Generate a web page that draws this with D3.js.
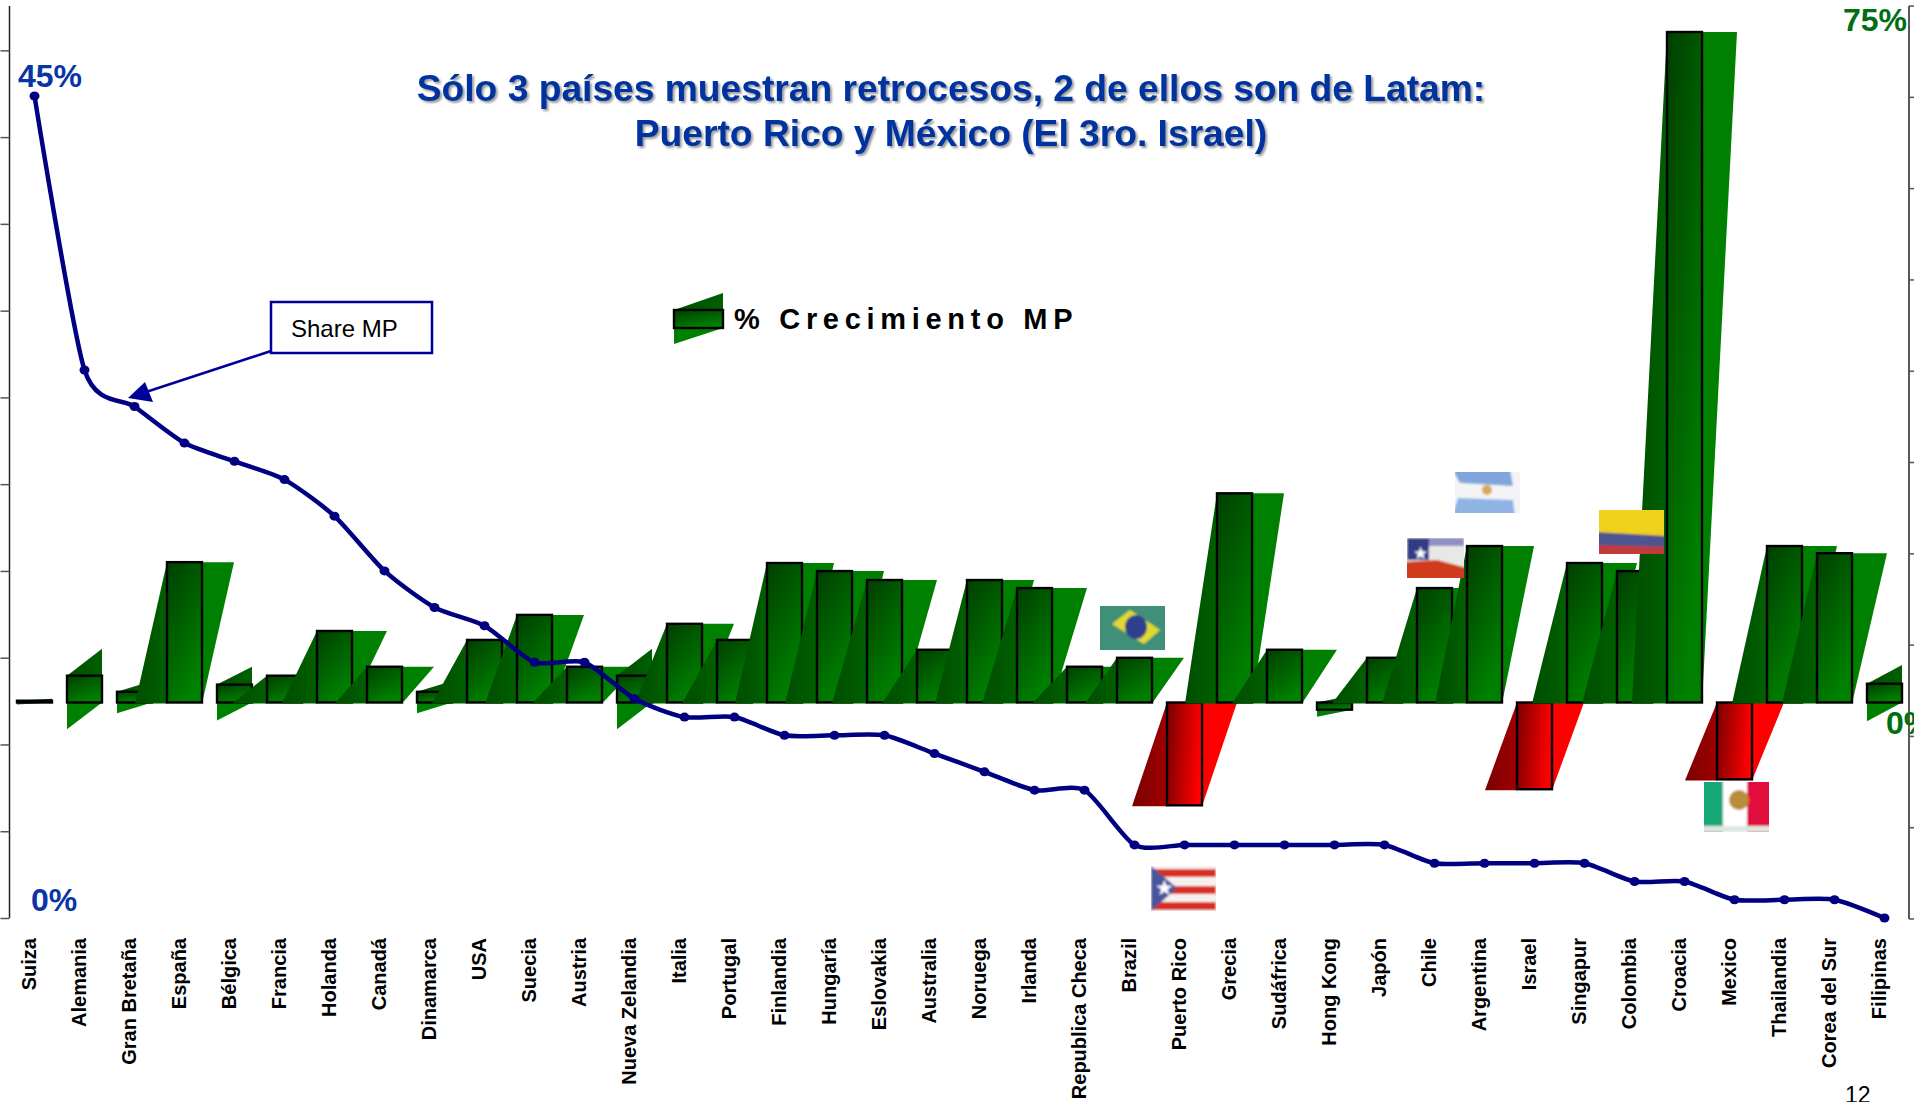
<!DOCTYPE html>
<html><head><meta charset="utf-8">
<script src="https://cdnjs.cloudflare.com/ajax/libs/d3/7.8.5/d3.min.js"></script>
<style>
html,body{margin:0;padding:0;background:#fff;overflow:hidden}
svg{display:block}
text{font-family:"Liberation Sans",Arial,sans-serif}
</style></head><body>
<svg id="c" width="1914" height="1102"></svg>
<script>
const categories=["Suiza","Alemania","Gran Bretaña","España","Bélgica","Francia","Holanda","Canadá","Dinamarca","USA","Suecia","Austria","Nueva Zelandia","Italia","Portugal","Finlandia","Hungaría","Eslovakia","Australia","Noruega","Irlanda","Republica Checa","Brazil","Puerto Rico","Grecia","Sudáfrica","Hong Kong","Japón","Chile","Argentina","Israel","Singapur","Colombia","Croacia","Mexico","Thailandia","Corea del Sur","Filipinas"];
const shareMP=[45,30,28,26,25,24,22,19,17,16,14,14,12,11,11,10,10,10,9,8,7,7,4,4,4,4,4,4,3,3,3,3,2,2,1,1,1,0];
const crecimientoMP=[0.2,3,1.2,15.7,2,3,8,4,1.2,7,9.8,4,3,8.8,7,15.6,14.7,13.7,5.9,13.7,12.8,4,5,-11.5,23.4,5.9,-0.8,5,12.8,17.5,-9.7,15.6,14.7,75,-8.6,17.5,16.7,2.1];
const flatBars=["Suiza","Alemania","Gran Bretaña","Bélgica","Dinamarca","Nueva Zelandia","Hong Kong","Filipinas"];
const narrowBars=["España","Canadá","Suecia","Italia","Finlandia","Hungaría","Noruega","Brazil","Grecia","Argentina","Israel","Mexico"];
const leftTicks=d3.range(0,48,4.75);
const rightTicks=d3.range(-24.16,78.1,10.212);
const titleLines=["Sólo 3 países muestran retrocesos, 2 de ellos son de Latam:","Puerto Rico y México (El 3ro. Israel)"];

const svg=d3.select("#c");
const x=d3.scaleBand().domain(categories).range([9.5,1909.5]).paddingInner(.3).paddingOuter(.15);
const yL=d3.scaleLinear().domain([0,45]).range([918,96]);
const yR=d3.scaleLinear().domain([0,75]).range([702.5,32]);
const w=x.bandwidth();

const defs=svg.append("defs");
function grad(id,x2,y2,a,b){const g=defs.append("linearGradient").attr("id",id).attr("x1",0).attr("y1",0).attr("x2",x2).attr("y2",y2);
 g.append("stop").attr("offset",0).attr("stop-color",a);g.append("stop").attr("offset",1).attr("stop-color",b);}
grad("gFace",.5,1,"#003f00","#008000");
grad("gLeft",1,0,"#004d00","#006000");
grad("rFace",1,.15,"#7a0000","#ff0000");
grad("rLeft",1,0,"#7a0000","#a00000");
const soft=defs.append("filter").attr("id","soft");soft.append("feGaussianBlur").attr("stdDeviation",1);

// axes
const axL=d3.axisLeft(yL).tickValues(leftTicks).tickFormat("").tickSizeOuter(0).tickSize(9);
const gL=svg.append("g").attr("transform","translate(9.5,0)").call(axL);
gL.select(".domain").attr("d","M0,6V918").attr("stroke","#222").attr("stroke-width",1.5);
gL.selectAll(".tick line").attr("stroke","#555").attr("stroke-width",1.5);
const axR=d3.axisRight(yR).tickValues(rightTicks).tickFormat("").tickSizeOuter(0).tickSize(5);
const gR=svg.append("g").attr("transform","translate(1909,0)").call(axR);
gR.select(".domain").attr("d","M0,6V919").attr("stroke","#222").attr("stroke-width",1.5);
gR.selectAll(".tick line").attr("stroke","#555").attr("stroke-width",1.5);

// bars
const pts=a=>a.map(p=>p.join(",")).join(" ");
categories.forEach((c,i)=>{
 const v=crecimientoMP[i],bx=x(c),b=yR(0),t=yR(v),g=svg.append("g");
 const s=narrowBars.includes(c)?w-3:w;
 const face=(y,h,fill)=>g.append("rect").attr("x",bx).attr("y",y).attr("width",w).attr("height",h).attr("fill",fill).attr("stroke","#000").attr("stroke-width",2.4);
 if(flatBars.includes(c)){
  const top=Math.min(t,b),bot=Math.max(t,b),h=Math.max(bot-top,2);
  g.append("polygon").attr("points",pts([[bx,top],[bx+w,top-h],[bx+w,top]])).attr("fill","url(#gLeft)");
  g.append("polygon").attr("points",pts([[bx,bot],[bx,bot+h],[bx+w,bot]])).attr("fill","#008000");
  face(top,bot-top,"url(#gFace)");
 } else if(v>=0){
  g.append("polygon").attr("points",pts([[bx-s,b+1],[bx,t],[bx,b+1]])).attr("fill","url(#gLeft)");
  g.append("polygon").attr("points",pts([[bx+w,b+1],[bx+w,t],[bx+w+s,t]])).attr("fill","#008000");
  face(t,b-t,"url(#gFace)");
 } else {
  g.append("polygon").attr("points",pts([[bx-s,t+1],[bx,b],[bx,t+1]])).attr("fill","url(#rLeft)");
  g.append("polygon").attr("points",pts([[bx+w,t+1],[bx+w,b],[bx+w+s,b]])).attr("fill","#ff0000");
  face(b,t-b,"url(#rFace)");
 }
});

// flags
function flag(X,Y,W,H,draw){const g=svg.append("g").attr("transform",`translate(${X},${Y})`);
 const id="clip"+X;defs.append("clipPath").attr("id",id).append("rect").attr("width",W).attr("height",H);
 const f=g.append("g").attr("clip-path",`url(#${id})`).append("g").attr("filter","url(#soft)");draw(f,W,H);}
const R=(g,a,b,c,d,col)=>g.append("rect").attr("x",a).attr("y",b).attr("width",c).attr("height",d).attr("fill",col);
const P=(g,a,col)=>g.append("polygon").attr("points",pts(a)).attr("fill",col);
flag(1100,606,65,44,(g,W,H)=>{R(g,-3,-3,W+6,H+6,"#3f8f78");P(g,[[12,18],[30,4],[60,24],[44,38]],"#e2d92e");g.append("ellipse").attr("cx",36).attr("cy",21).attr("rx",11).attr("ry",12).attr("fill","#2e3f8c");});
flag(1151,866,65,45,(g,W,H)=>{R(g,-3,-3,W+6,H+6,"#f6f0ee");[3,20,36].forEach(y=>R(g,0,y,W,8,"#d92f22"));P(g,[[0,0],[26,22],[0,45]],"#4a559c");g.append("text").attr("x",4).attr("y",29).attr("font-size",21).attr("fill","#fff").text("★");});
flag(1407,538,57,40,(g,W,H)=>{R(g,-3,-3,W+6,H+6,"#e8e8e6");P(g,[[-3,24],[30,22],[60,30],[60,45],[-3,45]],"#cf3a1c");R(g,0,0,22,22,"#2f3d86");R(g,22,0,35,8,"#8f8fc4");g.append("text").attr("x",6).attr("y",21).attr("font-size",17).attr("fill","#fff").text("★");});
flag(1455,472,65,41,(g,W,H)=>{R(g,-3,-3,W+6,H+6,"#f4f4f6");P(g,[[-3,-3],[55,-3],[58,14],[5,11]],"#7fa6dc");P(g,[[3,26],[58,28],[60,44],[-3,44]],"#8fb4e4");g.append("circle").attr("cx",32).attr("cy",18).attr("r",5).attr("fill","#d9a956");});
flag(1599,510,65,44,(g,W,H)=>{R(g,-3,-3,W+6,H+6,"#c23a3a");P(g,[[-3,22],[68,26],[68,37],[-3,35]],"#4d5590");P(g,[[-3,-3],[68,-3],[68,26],[-3,22]],"#f0d21a");});
flag(1704,782,65,50,(g,W,H)=>{R(g,-3,-3,22,H+6,"#12a878");R(g,19,-3,24,H+6,"#ffffff");R(g,43,-3,W-40,H+6,"#e0103c");R(g,-3,44,W+6,6,"#dfe6e0");g.append("circle").attr("cx",35).attr("cy",18).attr("r",10).attr("fill","#b98b3c");});

// line
const line=d3.line().x((d,i)=>x(categories[i])+w/2).y(d=>yL(d)).curve(d3.curveCardinal.tension(.3));
svg.append("path").datum(shareMP).attr("d",line).attr("fill","none").attr("stroke","#000080").attr("stroke-width",4.5);
svg.selectAll("ellipse.m").data(shareMP).join("ellipse").attr("class","m").attr("cx",(d,i)=>x(categories[i])+w/2).attr("cy",d=>yL(d)).attr("rx",5).attr("ry",4.5).attr("fill","#000080");

// category labels
svg.selectAll("text.cat").data(categories).join("text").attr("class","cat")
 .attr("transform",c=>`translate(${x(c)+w/2+1},938) rotate(-90)`).attr("text-anchor","end")
 .attr("font-size",20).attr("font-weight","bold").attr("fill","#000").text(c=>c);

// title
svg.selectAll("text.t").data(titleLines).join("text").attr("class","t").attr("x",951).attr("y",(d,i)=>101+i*45)
 .attr("text-anchor","middle").attr("font-size",37.2).attr("font-weight","bold").attr("fill","#0033a0")
 .style("filter","drop-shadow(2px 2px 1px #999)").text(d=>d);

// big labels
const lab=(t,X,Y,col)=>svg.append("text").attr("x",X).attr("y",Y).attr("font-size",32).attr("font-weight","bold").attr("fill",col).text(t);
lab("45%",18,87,"#0a35a5");lab("0%",31,911,"#0a35a5");lab("75%",1843,31,"#006e12");lab("0%",1886,734,"#006e12");
svg.append("text").attr("x",1845).attr("y",1103).attr("font-size",23).attr("fill","#000").text("12");

// legend
const lg=svg.append("g");
lg.append("polygon").attr("points",pts([[674,310],[723,293],[723,310]])).attr("fill","url(#gLeft)");
lg.append("polygon").attr("points",pts([[674,328],[674,344],[723,328]])).attr("fill","#008000");
lg.append("rect").attr("x",674).attr("y",310).attr("width",49).attr("height",18).attr("fill","url(#gFace)").attr("stroke","#000").attr("stroke-width",2.4);
lg.append("text").attr("x",734).attr("y",329).attr("font-size",29).attr("font-weight","bold").attr("letter-spacing",5.7).text("% Crecimiento MP");

// callout
svg.append("rect").attr("x",271).attr("y",302).attr("width",161).attr("height",51).attr("fill","#fff").attr("stroke","#000099").attr("stroke-width",2.5);
svg.append("text").attr("x",291).attr("y",337).attr("font-size",24).attr("fill","#000").text("Share MP");
svg.append("line").attr("x1",271).attr("y1",351).attr("x2",146).attr("y2",392).attr("stroke","#000099").attr("stroke-width",2.5);
svg.append("polygon").attr("points",pts([[128,398],[145,382],[153,402]])).attr("fill","#000099");
</script></body></html>
